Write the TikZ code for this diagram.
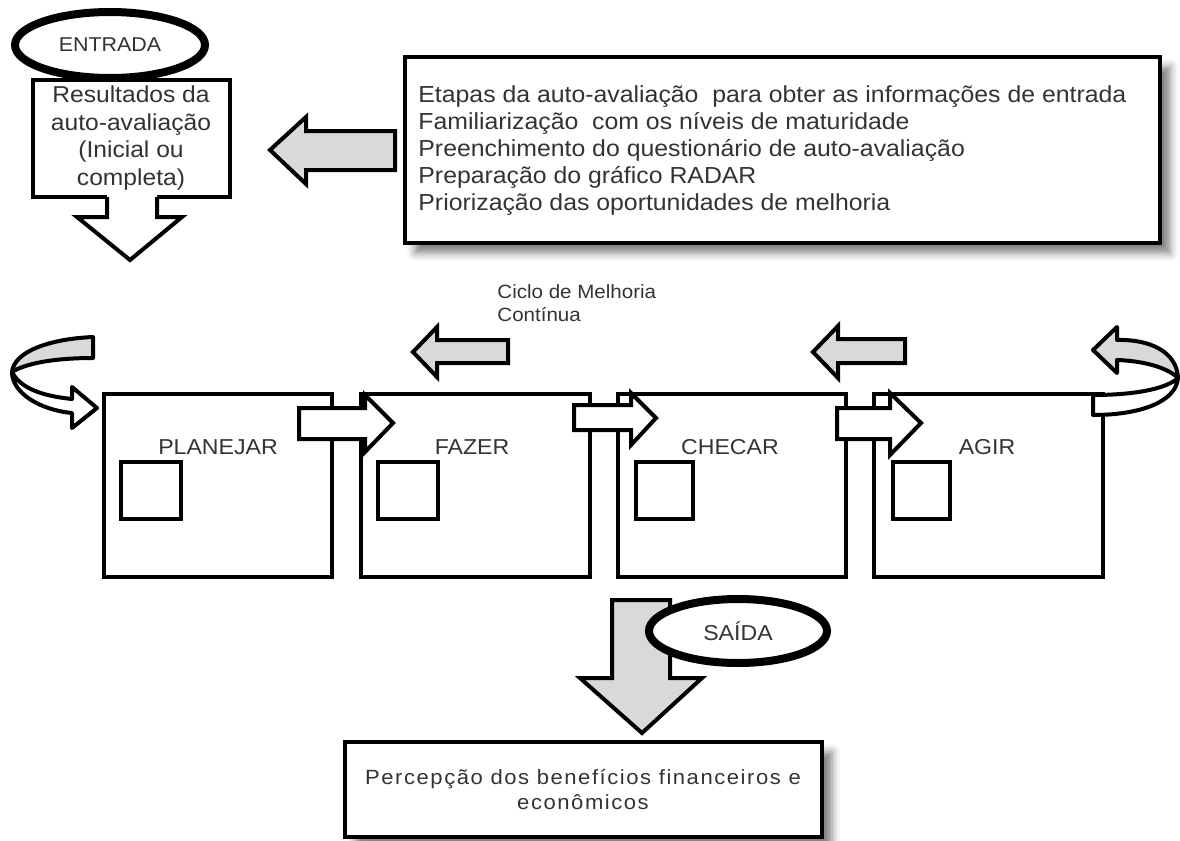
\documentclass[tikz,border=0pt]{standalone}
\usepackage{fontspec}
\setmainfont{Liberation Sans}
\newfontfamily\spacedfont[LetterSpace=7]{Liberation Sans}
\usetikzlibrary{shadows.blur,shapes.geometric}
\definecolor{agrey}{HTML}{D9D9D9}
\definecolor{txt}{HTML}{333333}
\begin{document}
\begin{tikzpicture}[x=0.5pt,y=-0.5pt,
  box/.style={draw=black,line width=2pt,fill=white},
  barrow/.style={draw=black,line width=2pt,line join=miter},
  carrow/.style={draw=black,line width=2pt,line join=round},
  sq/.style={draw=black,line width=2pt},
  lbl/.style={text=txt,inner sep=0pt,xscale=1.07,transform shape},
  oval/.style={ellipse,draw=black,line width=4pt,fill=white,inner sep=0pt,text=txt},
  shad/.style={blur shadow={shadow xshift=5pt,shadow yshift=-5pt,shadow blur radius=4pt,shadow opacity=50}},
]
\useasboundingbox (0,0) rectangle (1180,841);

% ---------- top right box
\draw[box,shad] (405,57) rectangle (1160,243);
\node[lbl,anchor=west,align=left,font=\fontsize{11.6}{13.5}\selectfont] (steps) at (418,151)
 {Etapas da auto-avaliação\ \ para obter as informações de entrada\\
  Familiarização\ \ com os níveis de maturidade\\
  Preenchimento do questionário de auto-avaliação\\
  Preparação do gráfico RADAR\\
  Priorização das oportunidades de melhoria};

% grey arrow to the left
\draw[barrow,fill=agrey] (395,131) -- (306,131) -- (306,117) -- (270,150) -- (306,184) -- (306,170) -- (395,170) -- cycle;

% ---------- entrada box
\draw[box] (33,80) rectangle (230,197);
\node[lbl,align=center,font=\fontsize{11.5}{13.85}\selectfont] (res) at (131,138)
 {Resultados da\\auto-avaliação\\(Inicial ou\\completa)};
\fill[white] (107,193) -- (107,217) -- (77,217) -- (130,260) -- (182,217) -- (157,217) -- (157,193) -- cycle;
\draw[barrow] (107,197) -- (107,217) -- (77,217) -- (130,260) -- (182,217) -- (157,217) -- (157,197);
\node[oval,minimum width=190*0.5pt,minimum height=66*0.5pt] (entrada) at (110,45) {};
\node[lbl,font=\fontsize{10}{12}\selectfont] (entradatxt) at (entrada.center) {ENTRADA};

% ---------- cycle label and small arrows
\node[lbl,anchor=west,align=left,font=\fontsize{9.6}{11.5}\selectfont] (ciclo) at (497,303) {Ciclo de Melhoria\\Contínua};
\draw[barrow,fill=agrey] (508,340) -- (437,340) -- (437,327) -- (413,352) -- (437,377) -- (437,363) -- (508,363) -- cycle;
\draw[barrow,fill=agrey] (905,339) -- (838,339) -- (838,326) -- (813,352) -- (838,378) -- (838,363) -- (905,363) -- cycle;

% ---------- PDCA boxes
\draw[box] (104,394) rectangle (332,577);
\draw[box] (361,394) rectangle (590,577);
\draw[box] (618,394) rectangle (846,577);
\draw[box] (874,394) rectangle (1103,577);
\node[lbl,font=\fontsize{10.8}{13}\selectfont] (plan) at (218,447) {PLANEJAR};
\node[lbl,font=\fontsize{10.8}{13}\selectfont] (do) at (472,447) {FAZER};
\node[lbl,font=\fontsize{10.8}{13}\selectfont] (check) at (730,447) {CHECAR};
\node[lbl,font=\fontsize{10.8}{13}\selectfont] (act) at (987,447) {AGIR};
\draw[sq] (121,462) rectangle (181,519);
\draw[sq] (378,462) rectangle (438,519);
\draw[sq] (636,462) rectangle (693,519);
\draw[sq] (893,462) rectangle (950,519);

% white arrows between boxes
\draw[barrow,fill=white] (299,408) -- (365,408) -- (365,395) -- (393,423) -- (365,452) -- (365,439) -- (299,439) -- cycle;
\draw[barrow,fill=white] (574,405) -- (631,405) -- (631,393) -- (656,418) -- (631,445) -- (631,430) -- (574,430) -- cycle;
\draw[barrow,fill=white] (837,408) -- (890,408) -- (890,393) -- (921,423) -- (890,455) -- (890,439) -- (837,439) -- cycle;

% left curved arrow
\draw[carrow,fill=agrey] (93,337) .. controls (48,339) and (14,352) .. (12,372) .. controls (28,362) and (60,358) .. (93,358) -- cycle;
\draw[carrow,fill=white] (12,372) .. controls (12,393) and (40,410) .. (72,413) -- (72,428) -- (97,408) -- (72,387) -- (72,399) .. controls (42,396) and (20,388) .. (12,372) -- cycle;

% right curved arrow
\draw[carrow,fill=agrey] (1117,327) -- (1093,350) -- (1117,373) -- (1117,360) .. controls (1145,361) and (1168,368) .. (1178,378) .. controls (1177,352) and (1150,339) .. (1117,340) -- cycle;
\draw[carrow,fill=white] (1178,378) .. controls (1165,390) and (1130,395) .. (1093,395) -- (1093,415) .. controls (1140,415) and (1176,402) .. (1178,378) -- cycle;

% ---------- saida
\draw[barrow,fill=agrey] (612,600) -- (670,600) -- (670,678) -- (702,678) -- (642,733) -- (580,678) -- (612,678) -- cycle;
\node[oval,minimum width=178*0.5pt,minimum height=64*0.5pt] (saida) at (738,631) {};
\node[lbl,font=\fontsize{10.8}{13}\selectfont] (saidatxt) at (saida.center) {SAÍDA};

\draw[box,shad] (345,742) rectangle (822,837);
\node[lbl,align=center,font=\spacedfont\fontsize{10.3}{12.5}\selectfont] (benef) at (583,790)
 {Percepção dos benefícios financeiros e\\econômicos};
\end{tikzpicture}
\end{document}
